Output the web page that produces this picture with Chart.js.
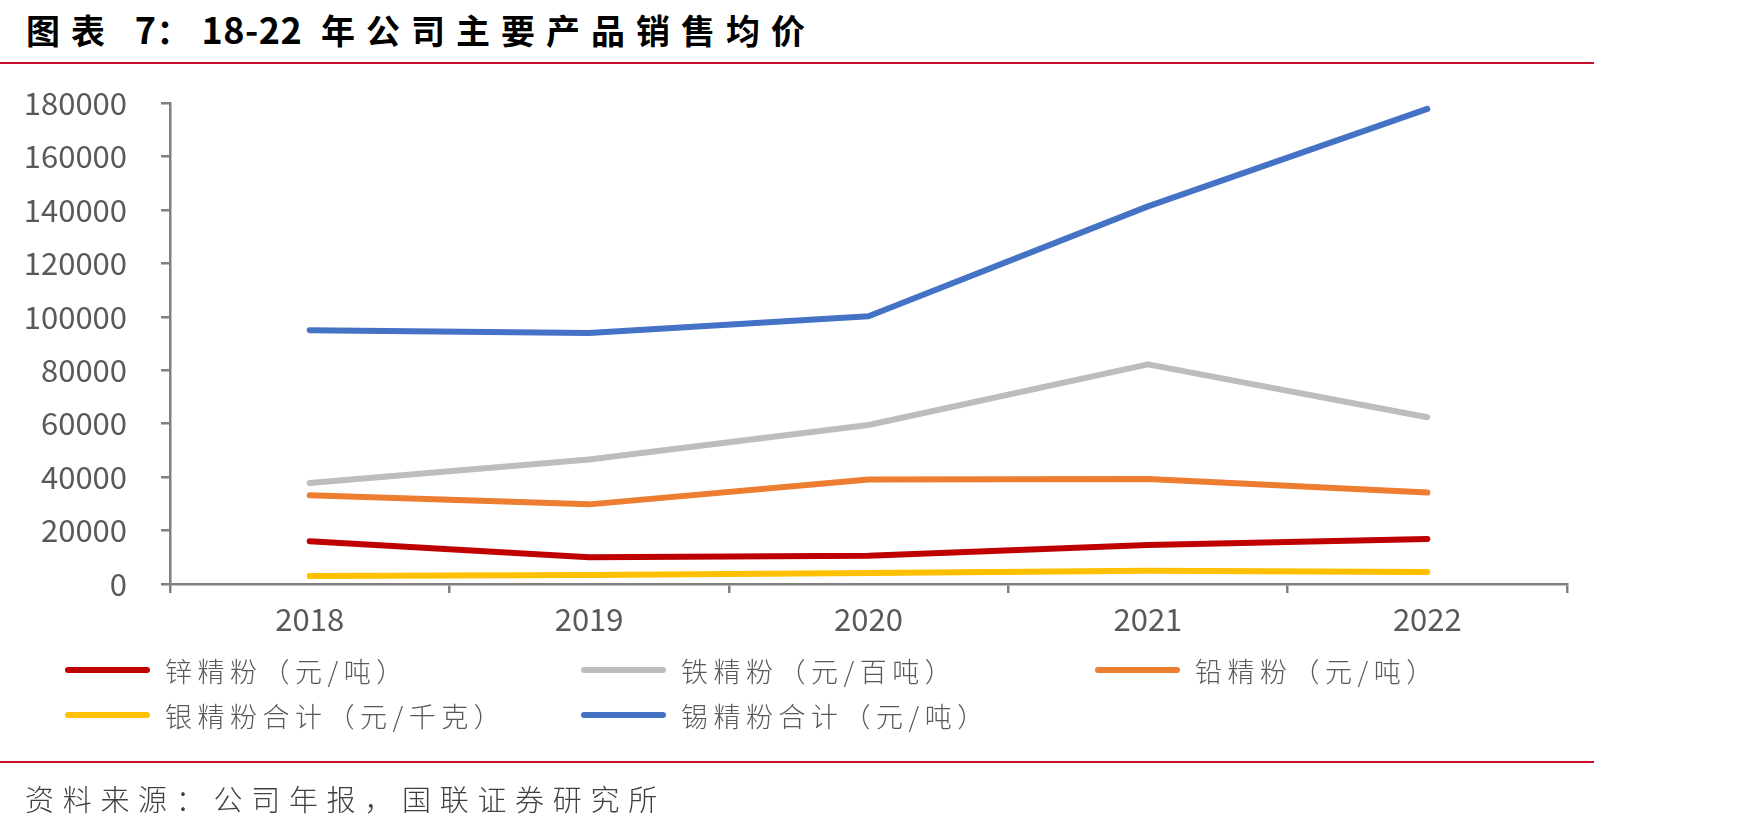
<!DOCTYPE html>
<html>
<head>
<meta charset="utf-8">
<script src="https://cdn.jsdelivr.net/npm/chart.js@4/dist/chart.umd.min.js"></script>
<style>
  html, body { margin:0; padding:0; background:#fff; }
  body { width:1748px; height:832px; position:relative; overflow:hidden; font-family:"Noto Sans CJK SC", sans-serif; }
  #title { position:absolute; left:26px; top:4px; font-size:34px; font-weight:700; color:#000; white-space:nowrap; line-height:48px; }
  #title .cj { letter-spacing:11px; }
  #title .nm { letter-spacing:0.5px; font-size:36px; }
  .rule { position:absolute; left:0; width:1594px; height:2px; background:#C8102E; }
  #source { position:absolute; left:25px; top:778px; font-size:29px; color:#404040; letter-spacing:8.7px; white-space:nowrap; line-height:40px; font-weight:300; }
  #wrap { position:absolute; left:0; top:0; width:1748px; height:832px; }
  .lg { position:absolute; display:flex; align-items:center; white-space:nowrap; font-size:27px; color:#595959; letter-spacing:5.5px; font-weight:300; }
  .lg .sw { width:85px; height:6px; border-radius:3px; margin-right:15px; }
</style>
</head>
<body>
<div id="title"><span class="cj">图表 </span><span class="nm">7</span><span class="cj">：</span><span class="nm">18-22</span><span class="cj"> 年公司主要产品销售均价</span></div>
<div class="rule" style="top:62px"></div>
<div id="wrap"><canvas id="c" width="1748" height="832"></canvas></div>
<div id="legend"></div>
<div class="rule" style="top:761px"></div>
<div id="source">资料来源：公司年报，国联证券研究所</div>
<script>
const years = ["2018", "2019", "2020", "2021", "2022"];
const zincPrice   = [16000, 10000, 10600, 14600, 16800];
const ironPrice   = [37800, 46600, 59500, 82200, 62400];
const leadPrice   = [33200, 29800, 39100, 39300, 34200];
const silverPrice = [3000, 3400, 4100, 5000, 4500];
const tinPrice    = [95000, 93900, 100200, 141300, 177800];
const seriesNames = ["锌精粉（元/吨）", "铁精粉（元/百吨）", "铅精粉（元/吨）", "银精粉合计（元/千克）", "锡精粉合计（元/吨）"];
const yTicks = [0, 20000, 40000, 60000, 80000, 100000, 120000, 140000, 160000, 180000];

const colors = ["#C00000", "#BDBDBD", "#ED7D31", "#FFC000", "#4472C4"];
const values = [zincPrice, ironPrice, leadPrice, silverPrice, tinPrice];

const datasets = seriesNames.map((n, i) => ({
  label: n,
  data: values[i],
  borderColor: colors[i],
  backgroundColor: colors[i],
  borderWidth: 6,
  pointRadius: 0,
  pointHoverRadius: 0,
  tension: 0,
  borderCapStyle: 'round',
  borderJoinStyle: 'round',
  fill: false
}));
const tickFont = { family: "'Noto Sans CJK SC', sans-serif", size: 31 };
const axisColor = "#808080";

new Chart(document.getElementById('c'), {
  type: 'line',
  data: { labels: years, datasets },
  options: {
    responsive: false,
    animation: false,
    devicePixelRatio: 1,
    layout: { padding: { left: 0, top: 103, right: 181, bottom: 188 } },
    plugins: { legend: { display: false }, tooltip: { enabled: false }, title: { display: false } },
    scales: {
      x: {
        offset: true,
        grid: { offset: true, drawOnChartArea: false, drawTicks: true, tickLength: 9, color: axisColor, lineWidth: 2.5 },
        border: { color: axisColor, width: 2.5 },
        ticks: { font: tickFont, color: "#595959", padding: 8 },
        afterFit: s => { s.height = 60; }
      },
      y: {
        min: 0, max: 180000,
        afterBuildTicks: s => { s.ticks = yTicks.map(v => ({ value: v })); },
        grid: { drawOnChartArea: false, drawTicks: true, tickLength: 9, color: axisColor, lineWidth: 2.5 },
        border: { color: axisColor, width: 2.5 },
        ticks: { font: tickFont, color: "#595959", padding: 34, callback: v => String(v) },
        afterFit: s => { s.width = 170; }
      }
    }
  }
});

// HTML legend built from the datasets
const lgPos = [[65, 670], [581, 670], [1095, 670], [65, 715], [581, 715]];
const legend = document.getElementById('legend');
datasets.forEach((d, i) => {
  const el = document.createElement('div');
  el.className = 'lg';
  el.style.left = lgPos[i][0] + 'px';
  el.style.top = (lgPos[i][1] - 20) + 'px';
  el.style.height = '40px';
  el.innerHTML = '<div class="sw" style="background:' + d.borderColor + '"></div><span>' + d.label + '</span>';
  legend.appendChild(el);
});
</script>
</body>
</html>
